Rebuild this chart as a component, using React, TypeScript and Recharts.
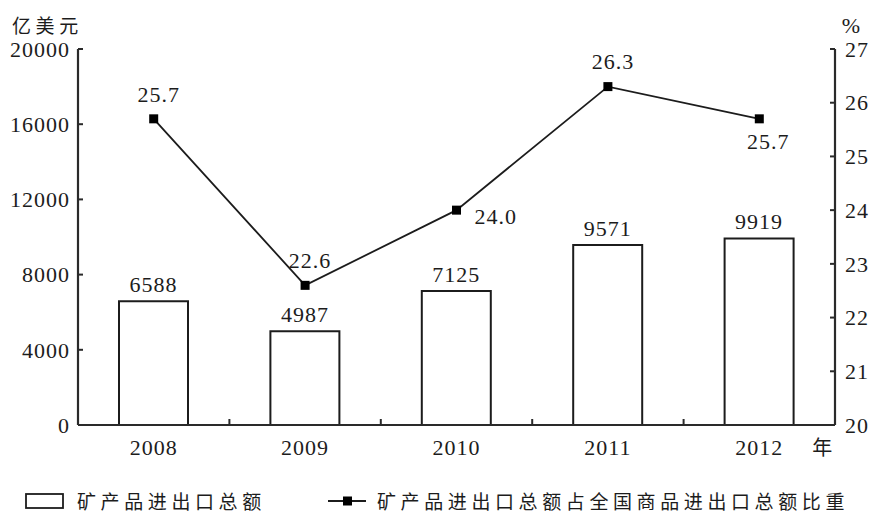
import React from 'react';
import { ComposedChart, Bar, Line, XAxis, YAxis, LabelList } from 'recharts';

// ---- data ----
const years = ['2008', '2009', '2010', '2011', '2012'];
const tradeValue = [6588, 4987, 7125, 9571, 9919];
const sharePct = [25.7, 22.6, 24.0, 26.3, 25.7];
const leftTicks = [0, 4000, 8000, 12000, 16000, 20000];
const rightTicks = [20, 21, 22, 23, 24, 25, 26, 27];
const shareLabelSide = ['top', 'top', 'right', 'top', 'bottom'];

const data = years.map((y, i) => ({ year: y, value: tradeValue[i], share: sharePct[i] }));

const SERIF = "'Liberation Serif'";
const CJK = "'Noto Sans CJK SC'";
const INK = '#1c1c1c';
const AXIS = '#2a2a2a';
const NUM_SIZE = 22;

const numStyle: any = { fontFamily: SERIF, fontSize: NUM_SIZE, letterSpacing: '1px' };

const XTick = (props: any) => {
  const { x, y, payload, index } = props;
  const half = payload && typeof payload.offset === 'number' && payload.offset > 0 ? payload.offset : 75;
  const axisY = y - 10;
  return (
    <g>
      <text x={x} y={y + 12} dy="0.35em" textAnchor="middle" fill={INK} style={numStyle}>
        {payload.value}
      </text>
      {index < years.length - 1 && (
        <line x1={x + half} x2={x + half} y1={axisY} y2={axisY - 6} stroke={AXIS} strokeWidth={2} />
      )}
      {index === years.length - 1 && (
        <text x={x + 63} y={y + 13} dy="0.35em" textAnchor="middle" fill={INK}
          style={{ fontFamily: CJK, fontSize: 20 }}>
          年
        </text>
      )}
    </g>
  );
};

const LeftTick = (props: any) => {
  const { x, y, payload } = props;
  return (
    <text x={x} y={y} dy="0.35em" textAnchor="end" fill={INK} style={numStyle}>
      {payload.value}
    </text>
  );
};

const RightTick = (props: any) => {
  const { x, y, payload } = props;
  return (
    <text x={x} y={y} dy="0.35em" textAnchor="start" fill={INK} style={numStyle}>
      {payload.value}
    </text>
  );
};

const SquareDot = (props: any) => {
  const { cx, cy } = props;
  if (cx == null || cy == null) return null;
  return <rect x={cx - 4.5} y={cy - 4.5} width={9} height={9} fill="#000" />;
};

const ShareLabel = (props: any) => {
  const { x, y, value, index } = props;
  const side = shareLabelSide[index] || 'top';
  let tx = x + 5;
  let ty = y - 25;
  let anchor: any = 'middle';
  if (side === 'bottom') {
    tx = x + 9;
    ty = y + 22;
  } else if (side === 'right') {
    tx = x + 18;
    ty = y + 6;
    anchor = 'start';
  }
  return (
    <text x={tx} y={ty} dy="0.35em" textAnchor={anchor} fill={INK} style={numStyle}>
      {Number(value).toFixed(1)}
    </text>
  );
};

const BarLabel = (props: any) => {
  const { x, y, width, value } = props;
  return (
    <text x={x + width / 2} y={y - 17} dy="0.35em" textAnchor="middle" fill={INK} style={numStyle}>
      {value}
    </text>
  );
};

export default function App() {
  const cjkText = { fontFamily: CJK, fontSize: 19, letterSpacing: '4.6px', fill: INK } as any;
  return (
    <div style={{ position: 'absolute', left: 0, top: 0, width: 872, height: 513, background: '#fff' }}>
      <ComposedChart
        width={872}
        height={513}
        data={data}
        margin={{ top: 49, right: 7, bottom: 58, left: 10 }}
        barCategoryGap={0}
      >
        <XAxis
          dataKey="year"
          xAxisId={0}
          height={30}
          tickLine={false}
          tickSize={0}
          tickMargin={10}
          axisLine={{ stroke: AXIS, strokeWidth: 2.2 }}
          tick={<XTick />}
          interval={0}
        />
        <YAxis
          yAxisId="left"
          orientation="left"
          width={68}
          domain={[0, 20000]}
          ticks={leftTicks}
          interval={0}
          tickSize={-5}
          tickMargin={13}
          tickLine={{ stroke: AXIS, strokeWidth: 2 }}
          axisLine={{ stroke: AXIS, strokeWidth: 2.2 }}
          tick={<LeftTick />}
        />
        <YAxis
          yAxisId="right"
          orientation="right"
          width={30}
          domain={[20, 27]}
          ticks={rightTicks}
          interval={0}
          tickSize={-5}
          tickMargin={15}
          tickLine={{ stroke: AXIS, strokeWidth: 2 }}
          axisLine={{ stroke: AXIS, strokeWidth: 2.2 }}
          tick={<RightTick />}
        />
        <Bar
          yAxisId="left"
          dataKey="value"
          barSize={69}
          fill="#ffffff"
          stroke={INK}
          strokeWidth={2}
          isAnimationActive={false}
        >
          <LabelList dataKey="value" content={<BarLabel />} />
        </Bar>
        <Line
          yAxisId="right"
          dataKey="share"
          type="linear"
          stroke={INK}
          strokeWidth={1.8}
          dot={<SquareDot />}
          activeDot={false}
          isAnimationActive={false}
        >
          <LabelList dataKey="share" content={<ShareLabel />} />
        </Line>
      </ComposedChart>
      <svg width={872} height={513} style={{ position: 'absolute', left: 0, top: 0, pointerEvents: 'none' }}>
        <text x={12} y={26} dy="0.35em" textAnchor="start" style={cjkText}>亿美元</text>
        <text x={851} y={25} dy="0.35em" textAnchor="middle" fill={INK}
          style={{ fontFamily: SERIF, fontSize: 22 }}>%</text>
        <rect x={26} y={494} width={37} height={14} fill="#fff" stroke={INK} strokeWidth={1.8} />
        <text x={77} y={502} dy="0.35em" style={cjkText}>矿产品进出口总额</text>
        <line x1={328} x2={366} y1={501} y2={501} stroke={INK} strokeWidth={1.8} />
        <rect x={343} y={496.5} width={9} height={9} fill="#000" />
        <text x={377} y={502} dy="0.35em" style={cjkText}>矿产品进出口总额占全国商品进出口总额比重</text>
      </svg>
    </div>
  );
}
